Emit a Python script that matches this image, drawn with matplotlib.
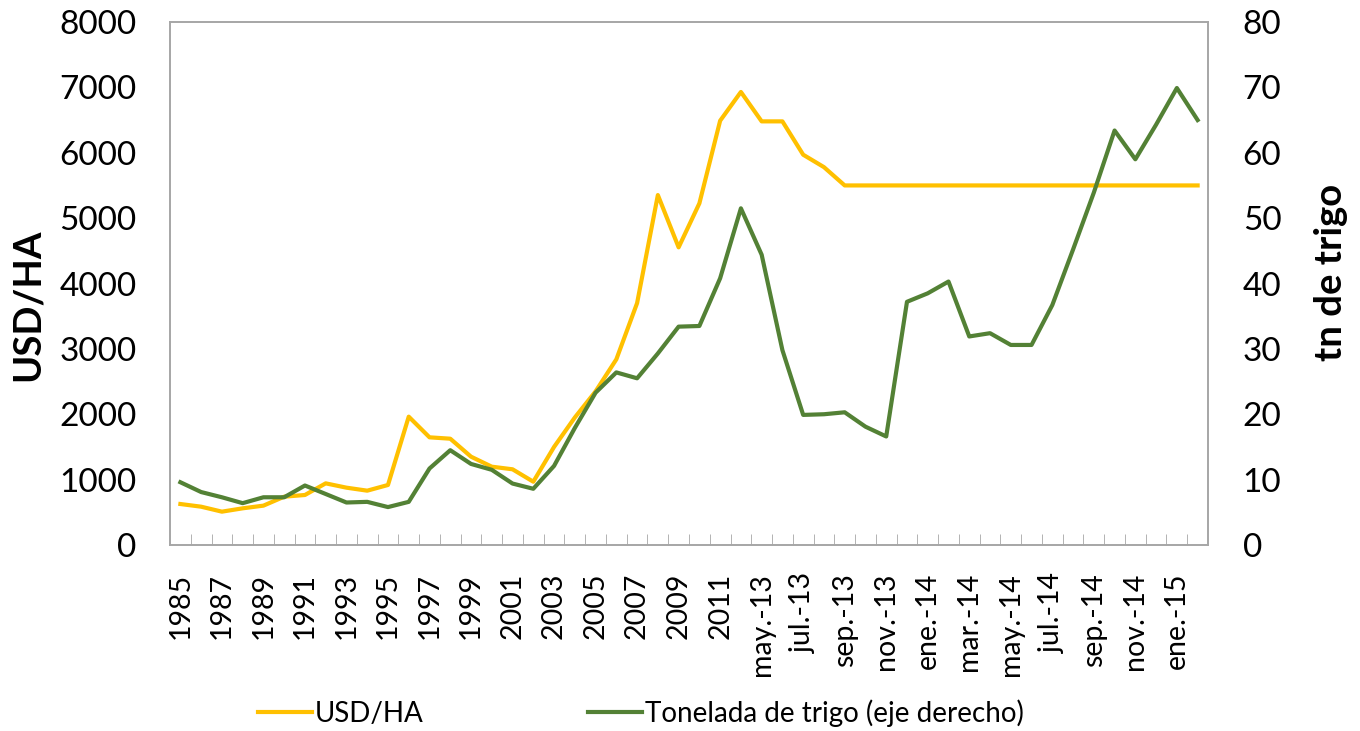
import matplotlib.pyplot as plt

plt.rcParams['font.family'] = ['Lato', 'DejaVu Sans']

# Categorias: anuales 1985-2012 y luego mensuales may.-13 a feb.-15
anios = [str(a) for a in range(1985, 2013)]
meses = ['may.-13', 'jun.-13', 'jul.-13', 'ago.-13', 'sep.-13', 'oct.-13',
         'nov.-13', 'dic.-13', 'ene.-14', 'feb.-14', 'mar.-14', 'abr.-14',
         'may.-14', 'jun.-14', 'jul.-14', 'ago.-14', 'sep.-14', 'oct.-14',
         'nov.-14', 'dic.-14', 'ene.-15', 'feb.-15']
categorias = anios + meses

# Valor de la tierra en USD/HA
usd_ha = [627, 586, 510, 561, 602, 739, 765, 943, 877, 831,
          918, 1963, 1647, 1626, 1351, 1198, 1158, 968, 1500, 1950,
          2350, 2840, 3700, 5353, 4553, 5226, 6490, 6930, 6480, 6480,
          5970, 5780, 5500, 5500, 5500, 5500, 5500, 5500, 5500, 5500,
          5500, 5500, 5500, 5500, 5500, 5500, 5500, 5500, 5500, 5500]

# Equivalente en toneladas de trigo
tn_trigo = [9.6, 8.1, 7.3, 6.4, 7.3, 7.3, 9.1, 7.8, 6.5, 6.6,
            5.8, 6.6, 11.7, 14.5, 12.4, 11.5, 9.4, 8.6, 12.1, 17.9,
            23.3, 26.4, 25.5, 29.3, 33.4, 33.5, 40.8, 51.5, 44.4, 29.8,
            19.9, 20.0, 20.3, 18.1, 16.6, 37.2, 38.5, 40.3, 31.9, 32.4,
            30.6, 30.6, 36.7, 45.2, 53.9, 63.4, 59.0, 64.3, 69.9, 65.0]

amarillo = '#FFC000'
verde = '#538135'
gris = '#A6A6A6'

x = list(range(len(categorias)))

fig = plt.figure(figsize=(13.6, 7.31), dpi=100)
ax = fig.add_axes([170 / 1360, 1 - 545 / 731, (1208 - 170) / 1360, (545 - 22) / 731])
ax2 = ax.twinx()

l1, = ax.plot(x, usd_ha, color=amarillo, lw=3, label='USD/HA', zorder=3)
l2, = ax2.plot(x, tn_trigo, color=verde, lw=3, label='Tonelada de trigo (eje derecho)', zorder=3)

ax.set_xlim(-0.5, len(categorias) - 0.5)
ax.set_ylim(0, 8000)
ax2.set_ylim(0, 80)
ax.set_yticks(range(0, 8001, 1000))
ax2.set_yticks(range(0, 81, 10))

# Etiquetas cada dos categorias, marcas en los limites de cada categoria
ax.set_xticks(x[::2])
ax.set_xticklabels(categorias[::2], rotation=90, va='top', ha='center', fontsize=20.5)
ax.set_xticks([i + 0.5 for i in x[:-1]], minor=True)
ax.tick_params(axis='x', which='major', length=0, pad=20)
ax.tick_params(axis='x', which='minor', direction='in', length=8, color=gris)

ax.tick_params(axis='y', length=0, pad=24, labelsize=24)
ax2.tick_params(axis='y', length=0, pad=25, labelsize=24)

for a in (ax, ax2):
    for s in a.spines.values():
        s.set_color(gris)
        s.set_linewidth(1.2)

ax.set_ylabel('USD/HA', fontsize=27.5, fontweight='bold')
ax2.set_ylabel('tn de trigo', fontsize=27.5, fontweight='bold')
ax.yaxis.set_label_coords(28 / 1360, 1 - 305 / 731, transform=fig.transFigure)
ax2.yaxis.set_label_coords(1331 / 1360, 1 - 272 / 731, transform=fig.transFigure)
ax.yaxis.label.set_va('center')
ax2.yaxis.label.set_va('center')

fig.legend(handles=[l1, l2], loc='center', bbox_to_anchor=(641 / 1360, 1 - 713 / 731),
           ncol=2, frameon=False, fontsize=20, handlelength=1.95, handletextpad=0.12,
           columnspacing=5.9)

fig.savefig('out.png', dpi=100)
